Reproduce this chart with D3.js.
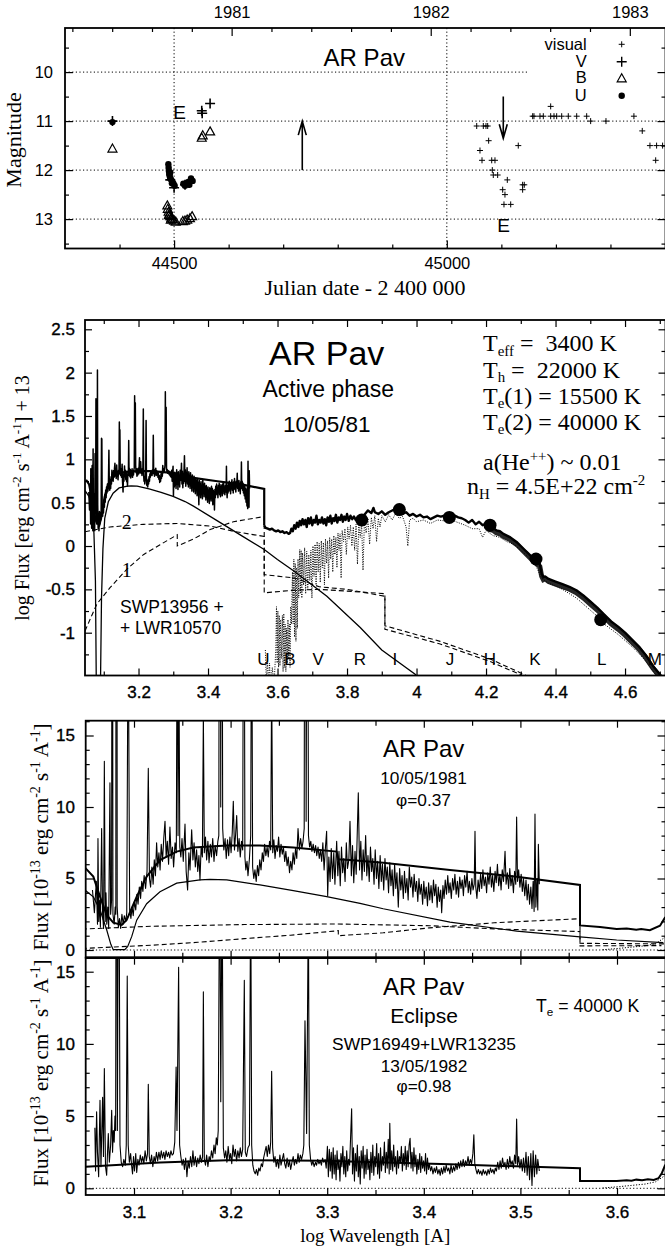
<!DOCTYPE html>
<html><head><meta charset="utf-8">
<script src="https://cdn.jsdelivr.net/npm/d3@7"></script>
<style>
html,body{margin:0;padding:0;background:#fff;}
svg{display:block;}
text{font-family:"Liberation Sans",Arial,Helvetica,sans-serif;fill:#000;}
.serif{font-family:"Liberation Serif","Times New Roman",Times,serif;}
.bt{stroke:#000;stroke-width:0.35;}
</style></head><body>
<svg id="c" width="665" height="1249"></svg>
<script>
// ---------------- DATA ----------------
// Top panel: light curve (JD-2400000, magnitude)
const visualPts = [[45054.8,11.1],[45066.9,11.1],[45071.8,11.1],[45074.9,11.1],[45076.7,11.4],[45060.8,11.6],[45064.5,11.8],[45082.3,11.8],[45088.3,11.8],[45083.4,12.0],[45085.2,12.1],[45093.2,12.1],[45110.9,12.2],[45102.4,12.4],[45106.6,12.5],[45104.8,12.7],[45117.1,12.7],[45131,11.5],[45139,12.3],[45142,12.3],[45139,12.4],[45157.4,10.9],[45159.8,10.9],[45170.8,10.9],[45176.9,10.9],[45190.4,10.9],[45196.5,10.9],[45201.4,10.9],[45210.6,10.9],[45222.7,10.9],[45238.1,10.9],[45256.4,10.9],[45190.4,10.7],[45263.7,11.0],[45291.8,11.0],[45343,10.9],[45358.3,11.2],[45372.4,11.5],[45384.6,11.5],[45395.6,11.5],[45382.9,11.8]];
const vPts = [[44387,11.0],[44493,12.2],[44500,12.36],[44520,12.3],[44527,12.26],[44550.7,10.79],[44551.5,10.84],[44566,10.64]];
const bPts = [[44387,11.57],[44487.6,12.73],[44488.5,12.8],[44490,12.86],[44491.5,12.9],[44493,12.95],[44495,12.98],[44497,13.01],[44500,13.04],[44503,13.06],[44490.5,12.93],[44494,13.02],[44516,13.05],[44520,13.04],[44524,13.02],[44529,12.99],[44533,12.95],[44550.7,11.35],[44552.5,11.3],[44566,11.22]];
const uPts = [[44387,11.02],[44489.5,11.88],[44490,11.95],[44490.5,12.02],[44491,12.08],[44492,12.12],[44493,12.17],[44495,12.2],[44497,12.24],[44499,12.28],[44501,12.32],[44493,12.05],[44496,12.27],[44517,12.28],[44520,12.32],[44522,12.27],[44526,12.24],[44528,12.3],[44531,12.17],[44534,12.22]];
const topYears = [1981,1982,1983];
const gridMags = [10,11,12,13];
const gridJD = [44500,45000];
const legendLabels = ["visual","V","B","U"];

// Middle panel (log flux + 13 vs log wavelength)
const hotLog = [[3.046,0.64],[3.0579,0.57],[3.0648,0.45],[3.0717,0.15],[3.076,-0.4],[3.0785,-1.6],[3.0905,-1.6],[3.0935,-0.6],[3.0976,-0.03],[3.1028,0.32],[3.1131,0.51],[3.1269,0.61],[3.1442,0.67],[3.1683,0.69],[3.1787,0.694],[3.196,0.69],[3.2304,0.658],[3.2649,0.618],[3.2995,0.572],[3.334,0.513],[3.358,0.46],[3.4271,0.29],[3.4962,0.12],[3.5617,-0.04],[3.5997,-0.155],[3.648,-0.29],[3.742,-0.58],[3.838,-0.94],[3.9,-1.2],[3.996,-1.48],[4.01,-1.55]];
const neb1Log = [[3.046,-0.98],[3.08,-0.67],[3.118,-0.48],[3.166,-0.27],[3.214,-0.1],[3.262,0.015],[3.3115,0.13],[3.3115,0.0],[3.358,0.08],[3.406,0.19],[3.473,0.28],[3.5617,0.34],[3.5617,-0.33],[3.65,-0.37],[3.72,-0.47],[3.80,-0.5],[3.909,-0.58],[3.909,-0.92],[4.068,-1.1],[4.21,-1.3],[4.33,-1.52]];
const neb2Log = [[3.046,0.165],[3.118,0.22],[3.214,0.25],[3.31,0.26],[3.406,0.23],[3.473,0.17],[3.5617,0.11],[3.5617,-0.54],[3.646,-0.51],[3.72,-0.5],[3.80,-0.52],[3.909,-0.55],[3.909,-0.96],[4.068,-1.13],[4.21,-1.33],[4.32,-1.52]];
const optTotalLog = [[3.5617,0.236],[3.566,0.21],[3.572,0.2],[3.578,0.19],[3.584,0.2],[3.59,0.18],[3.596,0.17],[3.602,0.18],[3.608,0.16],[3.614,0.17],[3.62,0.15],[3.626,0.16],[3.632,0.14],[3.636,0.15],[3.64,0.2],[3.644,0.17],[3.648,0.24],[3.652,0.2],[3.656,0.27],[3.66,0.22],[3.664,0.29],[3.668,0.24],[3.672,0.31],[3.676,0.25],[3.68,0.3],[3.684,0.22],[3.688,0.32],[3.692,0.26],[3.696,0.33],[3.70,0.24],[3.704,0.3],[3.708,0.27],[3.712,0.35],[3.716,0.25],[3.72,0.3],[3.724,0.27],[3.728,0.33],[3.732,0.26],[3.736,0.31],[3.74,0.24],[3.744,0.33],[3.748,0.28],[3.752,0.35],[3.756,0.26],[3.76,0.32],[3.764,0.29],[3.768,0.36],[3.772,0.27],[3.776,0.33],[3.78,0.3],[3.784,0.36],[3.788,0.28],[3.792,0.34],[3.796,0.3],[3.80,0.37],[3.805,0.29],[3.81,0.35],[3.815,0.31],[3.82,0.34],[3.825,0.3],[3.83,0.33],[3.835,0.31],[3.84,0.32],[3.85,0.36],[3.86,0.41],[3.87,0.38],[3.876,0.44],[3.88,0.39],[3.89,0.37],[3.90,0.4],[3.91,0.36],[3.92,0.39],[3.93,0.41],[3.94,0.43],[3.95,0.4],[3.96,0.37],[3.97,0.39],[3.98,0.35],[3.99,0.37],[4.0,0.34],[4.01,0.36],[4.02,0.33],[4.03,0.34],[4.04,0.31],[4.05,0.33],[4.06,0.35],[4.07,0.34],[4.08,0.35],[4.09,0.36],[4.10,0.34],[4.11,0.35],[4.12,0.33],[4.13,0.32],[4.14,0.30],[4.15,0.27],[4.16,0.3],[4.17,0.25],[4.18,0.28],[4.19,0.24],[4.2,0.26],[4.21,0.22],[4.22,0.21],[4.23,0.18],[4.24,0.17],[4.25,0.14],[4.26,0.12],[4.27,0.1],[4.28,0.07],[4.29,0.04],[4.30,0.0],[4.31,-0.04],[4.32,-0.08],[4.33,-0.12],[4.34,-0.16],[4.35,-0.19],[4.355,-0.21],[4.36,-0.32],[4.365,-0.36],[4.37,-0.35],[4.38,-0.38],[4.40,-0.41],[4.42,-0.44],[4.44,-0.47],[4.46,-0.51],[4.48,-0.57],[4.50,-0.64],[4.52,-0.71],[4.54,-0.79],[4.56,-0.87],[4.58,-0.93],[4.60,-1.0],[4.62,-1.08],[4.64,-1.16],[4.66,-1.26],[4.68,-1.38],[4.70,-1.48],[4.715,-1.56]];
const giantLog = [[3.565,-1.2],[3.568,-1.6],[3.571,-1.3],[3.574,-1.6],[3.577,-1.35],[3.58,-1.6],[3.585,-1.4],[3.59,-1.6],[3.595,-1.2],[3.597,-0.7],[3.599,-1.35],[3.601,-0.75],[3.603,-1.4],[3.605,-0.8],[3.607,-1.38],[3.609,-0.85],[3.611,-1.3],[3.614,-0.8],[3.616,-1.45],[3.618,-0.78],[3.62,-1.4],[3.622,-0.9],[3.624,-1.45],[3.626,-0.95],[3.628,-1.35],[3.63,-0.85],[3.632,-1.3],[3.634,-0.9],[3.636,-1.4],[3.638,-0.7],[3.64,-0.9],[3.643,-0.3],[3.645,-0.9],[3.647,-0.15],[3.649,-1.05],[3.651,-0.2],[3.653,-1.1],[3.655,-0.25],[3.657,-0.95],[3.659,-0.15],[3.661,-0.6],[3.664,-0.04],[3.666,-0.55],[3.668,-0.05],[3.67,-0.6],[3.672,-0.08],[3.675,-0.45],[3.678,-0.02],[3.681,-0.55],[3.684,-0.06],[3.687,-0.5],[3.69,-0.1],[3.693,-0.4],[3.696,-0.05],[3.699,-0.6],[3.702,0.0],[3.705,-0.35],[3.708,0.02],[3.711,-0.45],[3.714,0.05],[3.717,-0.3],[3.72,0.03],[3.723,-0.42],[3.726,0.06],[3.729,-0.25],[3.732,0.04],[3.735,-0.45],[3.738,0.08],[3.741,-0.2],[3.744,0.06],[3.747,-0.37],[3.75,0.1],[3.753,-0.15],[3.756,0.08],[3.759,-0.3],[3.762,0.12],[3.765,-0.1],[3.768,0.1],[3.771,-0.25],[3.774,0.15],[3.777,-0.05],[3.78,0.14],[3.783,-0.37],[3.786,0.18],[3.79,0.05],[3.794,0.2],[3.798,-0.1],[3.802,0.22],[3.806,0.08],[3.81,0.24],[3.814,0.0],[3.818,0.22],[3.822,-0.05],[3.826,0.25],[3.83,-0.21],[3.834,0.24],[3.838,0.1],[3.842,0.26],[3.846,-0.28],[3.85,0.28],[3.855,0.15],[3.86,0.32],[3.865,0.02],[3.87,0.33],[3.875,0.2],[3.88,0.35],[3.885,0.05],[3.89,0.32],[3.895,0.22],[3.90,0.35],[3.91,0.28],[3.92,0.36],[3.93,0.3],[3.94,0.38],[3.95,0.32],[3.96,0.34],[3.97,0.22],[3.975,0.0],[3.98,0.3],[3.99,0.32],[4.0,0.28],[4.02,0.3],[4.04,0.26],[4.06,0.3],[4.08,0.29],[4.10,0.3],[4.12,0.27],[4.14,0.24],[4.16,0.2],[4.18,0.2],[4.19,0.1],[4.2,0.18],[4.22,0.12],[4.24,0.1],[4.26,0.05],[4.28,0.02],[4.30,-0.05],[4.32,-0.12],[4.34,-0.2],[4.36,-0.37],[4.38,-0.43],[4.40,-0.46],[4.42,-0.5],[4.44,-0.55],[4.46,-0.6],[4.48,-0.67],[4.50,-0.74],[4.52,-0.81],[4.54,-0.9],[4.56,-0.96],[4.58,-1.02],[4.60,-1.09],[4.62,-1.16],[4.64,-1.24],[4.66,-1.33],[4.68,-1.44],[4.70,-1.55]];
const photLog = [[3.8423,0.30],[3.9505,0.42],[4.0944,0.33],[4.2115,0.24],[4.3438,-0.15],[4.530,-0.85]];
const bandNames = ["U","B","V","R","I","J","H","K","L","M"];
const bandPos = [3.559,3.636,3.717,3.837,3.938,4.096,4.211,4.341,4.533,4.686];

// Bottom panels (flux in 1e-13 erg cm-2 s-1 A-1)
const modelActive = [[3.049,5.78],[3.0579,5.13],[3.0648,3.73],[3.0717,2.45],[3.0786,1.91],[3.0873,1.75],[3.0924,2.1],[3.1028,3.73],[3.1131,5.13],[3.1269,6.29],[3.1442,6.88],[3.1614,7.16],[3.196,7.3],[3.2304,7.3],[3.2649,7.16],[3.3098,6.88],[3.3115,6.34],[3.3236,6.29],[3.358,6.1],[3.4271,5.59],[3.4962,5.13],[3.5617,4.55],[3.5617,1.72],[3.5824,1.6],[3.5997,1.47],[3.61,1.5],[3.62,1.42],[3.625,1.46],[3.634,1.38],[3.6445,1.7],[3.65,2.3]];
const modelEclipse = [[3.05,1.5],[3.1269,1.79],[3.196,1.95],[3.2995,1.9],[3.3236,1.86],[3.427,1.66],[3.5617,1.39],[3.5617,0.51],[3.5997,0.5],[3.61,0.56],[3.615,0.52],[3.62,0.6],[3.626,0.55],[3.632,0.62],[3.638,0.58],[3.643,0.7],[3.6465,1.06],[3.65,1.64]];
const giantLin = [[3.585,0.02],[3.60,0.1],[3.615,0.2],[3.63,0.3],[3.64,0.45],[3.65,0.9]];
const obsActive = [[3.057,4.2],[3.059,2.6],[3.061,4.8],[3.0622,1.8],[3.0627,7.8],[3.0635,2.0],[3.0645,3.5],[3.0652,1.6],[3.0665,8.5],[3.0675,2.5],[3.0685,1.5],[3.0693,13.2],[3.0702,2.0],[3.071,4.0],[3.0718,1.8],[3.0728,3.0],[3.0738,1.5],[3.0751,11.7],[3.0758,2.5],[3.0768,3.5],[3.0775,50],[3.0782,2.5],[3.0795,1.8],[3.0805,3.0],[3.0812,2.5],[3.0818,107],[3.0826,3.0],[3.0838,1.6],[3.085,2.2],[3.0862,1.5],[3.0875,2.5],[3.0888,1.8],[3.09,2.4],[3.0915,2.0],[3.0925,2.6],[3.0935,17.5],[3.0945,17],[3.0955,2.8],[3.0968,2.2],[3.098,3.0],[3.0992,2.4],[3.1005,3.4],[3.1018,2.8],[3.103,3.9],[3.1042,3.2],[3.1055,4.4],[3.1068,3.6],[3.108,4.8],[3.1092,4.1],[3.1105,5.2],[3.112,4.3],[3.1135,5.5],[3.1148,12.7],[3.116,5.0],[3.1172,4.4],[3.1185,5.8],[3.1198,4.6],[3.121,6.3],[3.1222,5.2],[3.1234,7.5],[3.1246,5.8],[3.1258,6.8],[3.127,5.6],[3.1282,7.4],[3.1295,6.2],[3.1308,7.8],[3.1321,9.0],[3.1333,6.5],[3.1345,7.6],[3.1358,6.0],[3.1372,8.6],[3.1385,6.4],[3.1398,7.2],[3.141,5.8],[3.1425,7.5],[3.1438,6.8],[3.1448,27],[3.1456,8],[3.1464,22],[3.1474,7.2],[3.1485,6.5],[3.1497,7.8],[3.151,6.2],[3.1528,8.8],[3.154,5.5],[3.1555,4.2],[3.1568,6.8],[3.158,5.6],[3.1597,8.4],[3.161,6.3],[3.1622,7.5],[3.1635,5.8],[3.1648,7.0],[3.166,5.5],[3.1672,6.6],[3.1683,4.9],[3.1695,7.2],[3.1708,6.5],[3.1718,16.5],[3.1728,6.8],[3.174,7.9],[3.1752,6.3],[3.1765,7.6],[3.1777,6.1],[3.179,7.4],[3.1802,6.5],[3.1815,7.8],[3.1828,6.2],[3.184,7.3],[3.1855,6.6],[3.1868,7.6],[3.1878,8],[3.1888,54],[3.1898,10],[3.1908,45],[3.1918,8.5],[3.193,7.0],[3.1943,7.8],[3.1955,6.4],[3.1968,7.7],[3.198,6.6],[3.1993,7.9],[3.2005,6.8],[3.2017,8.2],[3.2028,10.4],[3.204,7.0],[3.2052,8.1],[3.2063,9.4],[3.2075,6.9],[3.2088,7.8],[3.21,6.5],[3.2113,7.6],[3.2125,7.0],[3.2138,38],[3.2148,6.5],[3.2158,5.6],[3.217,6.2],[3.218,5.2],[3.2195,6.4],[3.2208,8],[3.2218,28],[3.2228,5.8],[3.224,5.0],[3.2252,5.6],[3.2265,4.8],[3.2278,5.9],[3.229,5.2],[3.2302,6.3],[3.2315,5.6],[3.2328,6.8],[3.234,6.2],[3.2352,7.4],[3.2365,6.6],[3.2378,7.2],[3.239,6.5],[3.2403,7.6],[3.2415,7.0],[3.2425,19],[3.2436,6.8],[3.2448,7.7],[3.246,6.4],[3.2472,7.3],[3.2485,6.9],[3.2497,7.9],[3.251,6.5],[3.2522,7.4],[3.2535,6.7],[3.2547,7.2],[3.256,6.2],[3.2572,6.9],[3.2585,5.9],[3.2597,6.5],[3.261,5.4],[3.2622,6.2],[3.2635,5.6],[3.2647,6.8],[3.266,6.0],[3.2672,7.1],[3.2685,6.4],[3.2698,8.5],[3.2712,7.0],[3.2725,7.8],[3.2738,7.1],[3.275,7.6],[3.2762,8.5],[3.2772,60],[3.2782,9],[3.2795,40],[3.2806,8],[3.2818,7.2],[3.283,7.6],[3.2842,6.9],[3.2855,7.4],[3.2868,6.8],[3.288,7.3],[3.2892,6.6],[3.2905,7.2],[3.2918,6.4],[3.293,7.0],[3.2943,6.2],[3.2955,7.5],[3.2968,5.6],[3.298,7.0],[3.2994,8.3],[3.3005,3.8],[3.3017,6.5],[3.303,4.8],[3.3042,7.1],[3.3055,5.0],[3.3068,6.8],[3.308,4.6],[3.3098,7.6],[3.311,5.2],[3.3122,6.9],[3.3135,4.5],[3.3148,7.2],[3.316,5.4],[3.3172,6.4],[3.3185,4.8],[3.3198,7.5],[3.321,5.7],[3.3224,6.3],[3.3236,9.0],[3.325,5.2],[3.3262,7.3],[3.3275,4.7],[3.3288,6.9],[3.33,5.3],[3.3322,11],[3.3335,5.6],[3.3348,7.6],[3.336,4.9],[3.3372,7.0],[3.3385,5.5],[3.3398,8.0],[3.341,5.2],[3.3422,6.6],[3.3435,4.8],[3.3448,7.2],[3.346,5.5],[3.3472,6.4],[3.3485,4.6],[3.3497,7.0],[3.351,5.0],[3.3522,6.2],[3.3535,4.3],[3.3548,6.6],[3.356,4.8],[3.3572,6.0],[3.3585,4.2],[3.3598,6.4],[3.361,4.9],[3.3622,5.8],[3.3635,4.0],[3.3648,6.1],[3.366,4.5],[3.3672,5.6],[3.3685,3.8],[3.3698,6.0],[3.371,4.3],[3.3722,5.4],[3.3736,3.0],[3.375,5.7],[3.3762,4.2],[3.3775,5.2],[3.3788,3.6],[3.38,5.5],[3.3812,4.0],[3.3825,5.0],[3.3838,3.5],[3.385,5.8],[3.3862,4.4],[3.3875,5.1],[3.3888,3.7],[3.39,5.3],[3.3912,4.1],[3.3925,4.8],[3.3938,3.4],[3.395,5.0],[3.3962,3.9],[3.3975,4.6],[3.3988,3.2],[3.40,4.8],[3.4012,3.6],[3.4025,4.4],[3.4038,3.1],[3.405,4.7],[3.4062,3.5],[3.4075,4.5],[3.4088,3.3],[3.41,4.9],[3.4112,3.8],[3.4125,4.6],[3.4138,3.0],[3.415,4.4],[3.4162,3.4],[3.4175,4.2],[3.4185,2.6],[3.4198,4.5],[3.421,3.6],[3.4222,4.9],[3.4235,3.9],[3.4248,5.2],[3.426,4.0],[3.4272,4.7],[3.4285,3.6],[3.4298,5.0],[3.431,4.2],[3.4322,5.3],[3.4335,3.9],[3.4348,4.8],[3.436,3.7],[3.4372,5.1],[3.4385,4.3],[3.4398,4.9],[3.441,3.8],[3.4422,5.2],[3.4435,4.4],[3.4448,5.5],[3.446,4.0],[3.4472,4.8],[3.4485,3.9],[3.4498,5.0],[3.451,4.2],[3.4522,4.6],[3.453,8.3],[3.4538,4.4],[3.455,3.6],[3.4562,4.9],[3.4575,4.1],[3.4588,5.3],[3.46,4.3],[3.4612,5.6],[3.4625,4.5],[3.4638,5.1],[3.465,4.0],[3.4662,5.4],[3.4675,4.6],[3.4688,5.8],[3.47,4.4],[3.4712,5.2],[3.4725,4.1],[3.4738,5.5],[3.475,4.7],[3.4762,6.0],[3.4775,4.5],[3.4788,5.3],[3.48,4.2],[3.4812,5.6],[3.4825,4.8],[3.4841,6.9],[3.4852,4.6],[3.4865,5.4],[3.4878,4.3],[3.489,5.7],[3.4902,4.5],[3.4915,5.2],[3.4928,4.0],[3.494,5.5],[3.4952,4.6],[3.4961,9.3],[3.497,4.8],[3.4982,5.6],[3.4995,4.4],[3.5008,5.3],[3.502,4.1],[3.5032,5.0],[3.5045,3.8],[3.5058,4.9],[3.507,3.5],[3.5082,4.6],[3.5095,3.2],[3.5108,4.4],[3.512,2.9],[3.5132,4.8],[3.5142,2.7],[3.5151,9.5],[3.516,3.0],[3.5172,5.0],[3.518,2.8],[3.5186,7.4],[3.5196,4.6]];
const obsEclipse = [[3.0595,4.2],[3.0602,1.2],[3.0613,5.3],[3.0622,2.5],[3.0634,0.8],[3.0648,6.1],[3.0658,1.5],[3.0675,6.3],[3.0684,2.2],[3.0693,8.3],[3.0705,1.5],[3.0717,0.9],[3.0726,2.5],[3.0734,3.8],[3.0745,1.8],[3.0758,3.0],[3.0769,5.4],[3.0778,2.5],[3.0786,4.0],[3.0795,3.2],[3.0803,5.0],[3.081,4.0],[3.0818,40],[3.0828,4],[3.0842,30],[3.0855,3.0],[3.0868,1.8],[3.0882,1.5],[3.0895,2.0],[3.091,1.6],[3.092,3.0],[3.093,14.7],[3.094,3.0],[3.0952,1.8],[3.0965,2.4],[3.0975,1.6],[3.0985,1.0],[3.0995,2.2],[3.1005,1.2],[3.1018,2.4],[3.1028,1.1],[3.104,2.0],[3.1052,1.6],[3.1065,2.3],[3.1078,1.8],[3.109,2.2],[3.1102,1.7],[3.1115,2.6],[3.1128,1.9],[3.114,2.4],[3.1148,7.2],[3.1158,2.2],[3.117,1.7],[3.1182,2.3],[3.1195,1.5],[3.1208,2.2],[3.122,1.8],[3.1232,2.5],[3.1245,1.9],[3.1258,2.5],[3.127,2.0],[3.1282,2.6],[3.1295,2.1],[3.1308,2.5],[3.132,2.0],[3.1332,2.6],[3.1345,2.2],[3.1358,2.5],[3.137,2.1],[3.1382,2.6],[3.1395,2.3],[3.1408,2.4],[3.1422,3.2],[3.1436,8.4],[3.1445,4],[3.1462,15.3],[3.1472,3.0],[3.1485,2.2],[3.1498,1.6],[3.151,2.0],[3.1522,1.3],[3.1535,2.1],[3.1548,0.8],[3.156,1.9],[3.1572,1.4],[3.1585,2.2],[3.1598,1.5],[3.161,2.6],[3.1622,1.6],[3.1635,2.2],[3.1648,1.5],[3.166,2.1],[3.1672,1.7],[3.1685,2.3],[3.1698,1.8],[3.171,2.2],[3.1718,13.6],[3.1728,2.0],[3.174,1.6],[3.1752,2.3],[3.1765,1.5],[3.1778,2.2],[3.179,1.9],[3.1802,2.6],[3.1815,2.1],[3.1828,3.0],[3.184,2.4],[3.1852,3.5],[3.1862,3.0],[3.1872,4.0],[3.1888,25],[3.1898,6],[3.1912,22],[3.1925,2.8],[3.1938,2.1],[3.195,2.6],[3.1962,1.8],[3.1975,2.9],[3.1988,2.0],[3.20,2.4],[3.2012,1.7],[3.2025,3.0],[3.2038,2.2],[3.205,2.7],[3.2062,1.9],[3.2075,2.6],[3.2088,2.1],[3.21,2.8],[3.2112,2.2],[3.2125,2.7],[3.2142,14.4],[3.2152,2.5],[3.2165,2.2],[3.218,2.8],[3.2195,3],[3.2208,22],[3.2218,3],[3.223,1.6],[3.2242,1.2],[3.2255,1.0],[3.2268,1.3],[3.228,0.9],[3.2292,1.4],[3.2305,1.2],[3.2318,1.7],[3.233,1.5],[3.2342,2.1],[3.2355,2.5],[3.2368,2.9],[3.238,2.2],[3.2392,3.0],[3.2405,2.4],[3.2415,3.2],[3.2425,8.1],[3.2435,2.8],[3.2448,1.8],[3.246,2.2],[3.2472,1.5],[3.2485,2.0],[3.2498,1.4],[3.251,2.3],[3.2522,1.6],[3.2535,2.0],[3.2548,2.4],[3.256,1.7],[3.2572,1.4],[3.2585,2.1],[3.2598,1.5],[3.261,1.9],[3.2622,1.3],[3.2635,1.8],[3.2648,2.2],[3.266,1.6],[3.2672,2.0],[3.2685,1.7],[3.2698,2.4],[3.271,1.8],[3.2722,2.3],[3.2735,2.0],[3.2748,2.4],[3.2758,3],[3.277,11.6],[3.2787,3.8],[3.2805,20],[3.2815,3],[3.2828,2.0],[3.284,1.6],[3.2852,1.9],[3.2865,1.5],[3.2878,1.8],[3.289,1.6],[3.2902,2.0],[3.2915,1.7],[3.2928,1.9],[3.294,1.6],[3.2952,2.1],[3.2965,1.8],[3.2978,2.0],[3.299,1.4],[3.3002,2.9],[3.3012,0.8],[3.3022,2.7],[3.3032,1.2],[3.3042,2.5],[3.3052,0.7],[3.3062,2.8],[3.3072,1.0],[3.3082,2.3],[3.3092,0.6],[3.3102,2.6],[3.3112,1.3],[3.3122,2.0],[3.3132,0.5],[3.3142,2.4],[3.3152,1.5],[3.3162,2.9],[3.3172,1.0],[3.3182,2.2],[3.3192,0.8],[3.3202,2.6],[3.3212,1.2],[3.3222,2.0],[3.3232,1.6],[3.3242,3.5],[3.3253,5.5],[3.3262,1.0],[3.3272,2.8],[3.3282,0.5],[3.3292,2.4],[3.3302,1.2],[3.3312,3.0],[3.3322,0.8],[3.3332,2.2],[3.3342,0.3],[3.3352,2.6],[3.3362,1.4],[3.3372,2.9],[3.3382,0.7],[3.3392,2.3],[3.3402,1.0],[3.3412,2.7],[3.3422,1.3],[3.3432,2.0],[3.3442,0.6],[3.3452,2.5],[3.3462,1.1],[3.3472,3.0],[3.3482,0.9],[3.3492,2.2],[3.3502,1.5],[3.3512,3.1],[3.3522,1.0],[3.3532,2.4],[3.3542,0.7],[3.3552,2.8],[3.3562,1.2],[3.3572,2.2],[3.3582,1.6],[3.3592,3.2],[3.3602,1.1],[3.3612,2.5],[3.3622,1.4],[3.3632,3.4],[3.3642,1.0],[3.3648,4.5],[3.3658,1.3],[3.3668,2.6],[3.3678,1.2],[3.3688,3.0],[3.3698,1.5],[3.3708,2.2],[3.3718,1.0],[3.3728,2.6],[3.3738,1.4],[3.3748,2.2],[3.3758,1.8],[3.3768,2.9],[3.3778,1.2],[3.3788,2.4],[3.3798,1.6],[3.3808,2.9],[3.3818,1.3],[3.3828,2.6],[3.3838,1.5],[3.3848,3.0],[3.3858,3.46],[3.3868,1.4],[3.3878,2.5],[3.3888,1.2],[3.3898,2.8],[3.3908,1.5],[3.3918,2.3],[3.3928,1.0],[3.3938,2.0],[3.3948,1.3],[3.3958,2.4],[3.3968,1.1],[3.3978,2.2],[3.3988,1.4],[3.3998,1.9],[3.4008,1.2],[3.4018,2.4],[3.4028,1.0],[3.4038,2.1],[3.4048,1.3],[3.4058,1.7],[3.407,1.2],[3.4082,1.5],[3.4095,1.0],[3.4108,1.4],[3.412,1.1],[3.4132,1.5],[3.4145,1.0],[3.4158,1.3],[3.417,0.9],[3.4182,1.4],[3.4195,1.0],[3.4208,1.5],[3.422,1.1],[3.4232,1.6],[3.4245,1.2],[3.4258,1.4],[3.427,1.0],[3.4282,1.6],[3.4295,1.1],[3.4308,1.5],[3.432,1.2],[3.4332,1.7],[3.4345,1.3],[3.4358,1.8],[3.437,1.4],[3.4382,1.9],[3.4395,1.5],[3.4408,2.0],[3.442,1.5],[3.4432,1.9],[3.4445,1.6],[3.4458,2.2],[3.447,1.6],[3.4482,2.0],[3.4495,1.7],[3.4508,2.4],[3.4518,3.7],[3.4528,1.7],[3.454,1.3],[3.4552,1.0],[3.4565,1.3],[3.4578,1.0],[3.459,1.2],[3.4602,0.9],[3.4615,1.3],[3.4628,1.0],[3.464,1.2],[3.4652,0.9],[3.4665,1.3],[3.4678,1.0],[3.469,1.4],[3.4702,1.1],[3.4715,1.3],[3.4728,1.0],[3.474,1.4],[3.4752,1.2],[3.4765,1.8],[3.4778,1.3],[3.479,1.9],[3.4802,1.4],[3.4815,2.1],[3.4828,1.5],[3.484,1.8],[3.4852,1.3],[3.4865,2.0],[3.4878,1.4],[3.489,2.2],[3.4902,1.6],[3.4915,1.9],[3.4928,1.4],[3.494,2.3],[3.4952,1.7],[3.4961,4.8],[3.497,1.6],[3.4982,2.2],[3.4995,1.4],[3.5008,2.0],[3.502,1.2],[3.5032,2.1],[3.5045,1.1],[3.5058,2.5],[3.507,0.9],[3.5082,2.2],[3.5095,0.6],[3.5108,2.4],[3.512,0.2],[3.5132,2.6],[3.5145,0.8],[3.5158,2.3],[3.517,1.0],[3.518,2.0],[3.5196,1.2]];

// ---------------- DRAWING ----------------
const svg = d3.select('#c');
const RX = 665.5;

// scales
const xT = d3.scaleLinear().domain([44300,45400]).range([65,665]);
const yT = d3.scaleLinear().domain([9.1,13.6]).range([28,248.5]);
const yrT = d3.scaleLinear().domain([1981,1983]).range([xT(44605.5), xT(45335.5)]);
const xM = d3.scaleLinear().domain([3.046,4.715]).range([85,665]);
const yM = d3.scaleLinear().domain([2.5,-1]).range([329.3,632.7]);
const xB = d3.scaleLinear().domain([3.05,3.65]).range([85.7,665.3]);
const y3 = d3.scaleLinear().domain([15,0]).range([735.5,950]);
const y4 = d3.scaleLinear().domain([15,0]).range([971.7,1188.3]);

const frames = {
  top:{l:65,t:28,r:RX,b:248.5},
  mid:{l:85,t:320,r:RX,b:675.5},
  p3:{l:85.7,t:720.7,r:RX,b:957.7},
  p4:{l:85.7,t:957.7,r:RX,b:1195}
};
const defs = svg.append('defs');
Object.entries(frames).forEach(([k,f])=>{
  defs.append('clipPath').attr('id','clip-'+k).append('rect')
    .attr('x',f.l).attr('y',f.t).attr('width',f.r-f.l).attr('height',f.b-f.t);
});

function axis(orient, scale, values, size, fmt, pad, fs, cls, pos){
  const gen = {left:d3.axisLeft,right:d3.axisRight,top:d3.axisTop,bottom:d3.axisBottom}[orient](scale)
    .tickValues(values).tickSizeInner(-size).tickSizeOuter(0).tickPadding(pad||3)
    .tickFormat(fmt || (()=>''));
  const g = svg.append('g');
  if(orient==='left'||orient==='right') g.attr('transform',`translate(${pos},0)`);
  else g.attr('transform',`translate(0,${pos})`);
  g.call(gen);
  g.select('.domain').remove();
  g.attr('font-family',null).attr('font-size',null);
  g.selectAll('line').attr('stroke','#000').attr('stroke-width',1.2);
  g.selectAll('text').attr('font-size',fs||16).attr('fill','#000');
  if(cls) g.selectAll('text').attr('class',cls);
  if(!fmt) g.selectAll('text').remove();
  return g;
}
function rich(x,y,parts,size,opts){
  opts = opts||{};
  const t = svg.append('text').attr('x',x).attr('y',y).attr('font-size',size)
    .attr('text-anchor',opts.anchor||'start');
  if(opts.cls) t.attr('class',opts.cls);
  if(opts.rotate) t.attr('transform',`rotate(-90,${x},${y})`);
  const subK = opts.sub!=null ? opts.sub : 0.26;
  const supK = opts.sup!=null ? opts.sup : 0.4;
  const small = opts.small || 0.66;
  let cur = 0;
  parts.forEach(p=>{
    const s = p[0], k = p[1];
    const target = k==='sub'? size*subK : k==='sup'? -size*supK : 0;
    const ts = t.append('tspan').text(s);
    if(target-cur!==0) ts.attr('dy',target-cur);
    if(k) ts.attr('font-size',size*small);
    cur = target;
  });
  return t;
}
function label(x,y,s,size,opts){ return rich(x,y,[[s]],size,opts); }

// ========== TOP PANEL ==========
{
  const f = frames.top;
  const gg = svg.append('g').attr('stroke','#000').attr('stroke-width',1).attr('stroke-dasharray','1.2,2.4');
  gridMags.forEach(m=>{
    gg.append('line').attr('x1',f.l).attr('x2', m===10 ? 527 : 665).attr('y1',yT(m)).attr('y2',yT(m));
  });
  gridJD.forEach(j=>{
    gg.append('line').attr('x1',xT(j)).attr('x2',xT(j)).attr('y1',f.t).attr('y2',f.b);
  });
  const magTicks = d3.range(19,28).map(i=>i/2);
  const magMajor = magTicks.filter(d=>Number.isInteger(d));
  const magMinor = magTicks.filter(d=>!Number.isInteger(d));
  axis('left',yT,magMajor,8,d=>String(d),12,16.5,null,f.l);
  axis('left',yT,magMinor,4,null,3,16.5,null,f.l);
  axis('right',yT,magMajor,8,null,3,16.5,null,f.r);
  axis('right',yT,magMinor,4,null,3,16.5,null,f.r);
  const jdTicks = d3.range(44400,45400,100);
  axis('bottom',xT,jdTicks.filter(d=>d%500===0),8,d=>String(d),9,16.5,null,f.b);
  axis('bottom',xT,jdTicks.filter(d=>d%500!==0),4,null,3,16.5,null,f.b);
  const yrTicks = d3.range(1,17).map(i=>1980+i*0.2).filter(v=>yrT(v)>66 && yrT(v)<664);
  axis('top',yrT,topYears,8,d=>String(d),10.5,16.5,null,f.t);
  axis('top',yrT,yrTicks.filter(v=>Math.abs(v-Math.round(v))>0.01),4,null,3,16.5,null,f.t);
  svg.append('rect').attr('x',f.l).attr('y',f.t).attr('width',f.r-f.l).attr('height',f.b-f.t)
    .attr('fill','none').attr('stroke','#000').attr('stroke-width',1.8);
  const gp = svg.append('g').attr('clip-path','url(#clip-top)');
  const plus = (g,x,y,a,w)=>{ g.append('path').attr('d',`M${x-a},${y}H${x+a}M${x},${y-a}V${y+a}`).attr('stroke','#000').attr('stroke-width',w).attr('fill','none'); };
  const tri = (g,x,y)=>{ g.append('path').attr('d',`M${x},${y-5}L${x+4.5},${y+3}L${x-4.5},${y+3}Z`).attr('stroke','#000').attr('stroke-width',1.2).attr('fill','none'); };
  const dot = (g,x,y)=>{ g.append('circle').attr('cx',x).attr('cy',y).attr('r',3.2).attr('fill','#000'); };
  visualPts.forEach(d=>plus(gp,xT(d[0]),yT(d[1]),3,1));
  bPts.forEach(d=>tri(gp,xT(d[0]),yT(d[1])));
  uPts.forEach(d=>dot(gp,xT(d[0]),yT(d[1])));
  vPts.forEach(d=>plus(gp,xT(d[0]),yT(d[1]),5,1.6));
  const ly = [50,66.7,83.3,101];
  legendLabels.forEach((s,i)=>label(586.7,ly[i],s,16.5,{anchor:'end'}));
  plus(svg,621.7,44.3,3,1); plus(svg,621.7,61.7,5,1.4); tri(svg,621.7,78.8); dot(svg,621.7,95.7);
  label(364.3,66,'AR Pav',24,{anchor:'middle'});
  label(173.3,119,'E',19);
  label(497.3,231.7,'E',19);
  const ax1 = xT(44735), ax2 = xT(45103.5);
  const ar = svg.append('g').attr('stroke','#000').attr('stroke-width',1.6).attr('fill','none');
  ar.append('path').attr('d',`M${ax1},${yT(12)}V${yT(11)}M${ax1-4},${yT(11)+14}L${ax1},${yT(11)}L${ax1+4},${yT(11)+14}`);
  ar.append('path').attr('d',`M${ax2},${yT(10.5)}V${yT(11.35)}M${ax2-4},${yT(11.35)-14}L${ax2},${yT(11.35)}L${ax2+4},${yT(11.35)-14}`);
  label(21,140,'Magnitude',22,{anchor:'middle',cls:'serif',rotate:true});
  label(365,295,'Julian date - 2 400 000',22,{anchor:'middle',cls:'serif'});
}

// ========== MIDDLE PANEL ==========
{
  const f = frames.mid;
  const xt = d3.range(31,48).map(i=>i/10);
  const xMaj = xt.filter(d=>Math.round(d*10)%2===0 && d>=3.2 && d<=4.6);
  const xMin = xt.filter(d=>!xMaj.includes(d));
  const fmtX = d=> (Math.abs(d-4)<1e-9?'4':d.toFixed(1));
  axis('bottom',xM,xMaj,7,fmtX,10.5,17,'bt',f.b);
  axis('bottom',xM,xMin,4,null,3,17,null,f.b);
  axis('top',xM,xMaj,7,null,3,17,null,f.t);
  axis('top',xM,xMin,4,null,3,17,null,f.t);
  const yt = d3.range(-5,11).map(i=>i/4);
  const yMaj = yt.filter(d=>Math.abs(d*2-Math.round(d*2))<1e-9);
  const yMin = yt.filter(d=>!yMaj.includes(d));
  axis('left',yM,yMaj,7,d=>String(d),10,17,'bt',f.l);
  axis('left',yM,yMin,4,null,3,17,null,f.l);
  axis('right',yM,yMaj,7,null,3,17,null,f.r);
  axis('right',yM,yMin,4,null,3,17,null,f.r);
  svg.append('rect').attr('x',f.l).attr('y',f.t).attr('width',f.r-f.l).attr('height',f.b-f.t)
    .attr('fill','none').attr('stroke','#000').attr('stroke-width',1.8);

  const g = svg.append('g').attr('clip-path','url(#clip-mid)');
  const lin = d3.line().x(d=>xM(d[0])).y(d=>yM(d[1]));
  const lg = d3.line().x(d=>xM(d[0])).y(d=>yM(Math.log10(Math.max(d[1],0.005))));
  g.append('path').attr('d',lin(giantLog)).attr('fill','none').attr('stroke','#000').attr('stroke-width',1).attr('stroke-dasharray','1,1.4');
  g.append('path').attr('d',lin(neb2Log)).attr('fill','none').attr('stroke','#000').attr('stroke-width',1.1).attr('stroke-dasharray','5,3');
  g.append('path').attr('d',lin(neb1Log)).attr('fill','none').attr('stroke','#000').attr('stroke-width',1.1).attr('stroke-dasharray','5,3');
  g.append('path').attr('d',lin(hotLog)).attr('fill','none').attr('stroke','#000').attr('stroke-width',1.3);
  g.append('path').attr('d',lg(obsActive)).attr('fill','none').attr('stroke','#000').attr('stroke-width',1.5).attr('stroke-linejoin','round');
  g.append('path').attr('d',lg(modelActive.filter(d=>d[0]<=3.5617))).attr('fill','none').attr('stroke','#000').attr('stroke-width',2.2);
  g.append('path').attr('d',lin(optTotalLog)).attr('fill','none').attr('stroke','#000').attr('stroke-width',2.4).attr('stroke-linejoin','round');
  g.append('path').attr('d',lin(optTotalLog.filter(d=>d[0]>=4.2))).attr('fill','none').attr('stroke','#000').attr('stroke-width',5).attr('stroke-opacity',0.85).attr('transform','translate(0,2.5)');
  g.selectAll('circle.ph').data(photLog).enter().append('circle').attr('class','ph')
    .attr('cx',d=>xM(d[0])).attr('cy',d=>yM(d[1])).attr('r',6.5).attr('fill','#000');

  bandNames.forEach((b,i)=>label(xM(bandPos[i]),664.5,b,17,{anchor:'middle'}));
  label(326.7,365,'AR Pav',34,{anchor:'middle'});
  label(328.3,397.3,'Active phase',23,{anchor:'middle'});
  label(326.7,431.7,'10/05/81',22.5,{anchor:'middle'});
  const S = {cls:'serif',sub:0.2,small:0.62};
  rich(483,351,[['T'],['eff','sub'],['\u00a0=\u00a0\u00a03400 K']],24,S);
  rich(483,377.5,[['T'],['h','sub'],['\u00a0=\u00a0\u00a022000 K']],24,S);
  rich(483,403.5,[['T'],['e','sub'],['(1) = 15500 K']],24,S);
  rich(483,429.5,[['T'],['e','sub'],['(2) = 40000 K']],24,S);
  rich(483,470,[['a(He'],['++','sup'],[') ~ 0.01']],24,{cls:'serif',sup:0.36,small:0.62});
  rich(467,494,[['n'],['H','sub'],[' = 4.5E+22 cm'],['-2','sup']],24,{cls:'serif',sub:0.2,sup:0.36,small:0.62});
  label(120,613.3,'SWP13956 +',17.5);
  label(120,634,'+ LWR10570',17.5);
  label(126.7,528.5,'2',20,{anchor:'middle',cls:'serif'});
  label(126.7,577,'1',20,{anchor:'middle',cls:'serif'});
  rich(29,498,[['log Flux [erg cm'],['-2','sup'],[' s'],['-1','sup'],[' A'],['-1','sup'],['] + 13']],20,{cls:'serif',anchor:'middle',rotate:true});
}

// ========== BOTTOM PANELS ==========
function bottomPanel(key, yS, model, obs, isEclipse){
  const f = frames[key];
  const xt = d3.range(62,73).map(i=>i/20);
  const xMaj = xt.filter(d=>Math.round(d*20)%2===0);
  const xMin = xt.filter(d=>!xMaj.includes(d));
  axis('top',xB,xMaj,7,null,3,17,null,f.t);
  axis('top',xB,xMin,5,null,3,17,null,f.t);
  axis('bottom',xB,xMaj,7,key==='p4'?(d=>d.toFixed(1)):null,10.7,17,'bt',f.b);
  axis('bottom',xB,xMin,5,null,3,17,null,f.b);
  const yt = d3.range(0,17);
  const yMaj = yt.filter(d=>d%5===0), yMin = yt.filter(d=>d%5!==0);
  axis('left',yS,yMaj,8,d=>String(d),10.7,17,'bt',f.l);
  axis('left',yS,yMin,4,null,3,17,null,f.l);
  axis('right',yS,yMaj,8,null,3,17,null,f.r);
  axis('right',yS,yMin,4,null,3,17,null,f.r);
  const g = svg.append('g').attr('clip-path',`url(#clip-${key})`);
  g.append('line').attr('x1',f.l).attr('x2',f.r).attr('y1',yS(0)).attr('y2',yS(0))
    .attr('stroke','#000').attr('stroke-width',1).attr('stroke-dasharray','1.2,2.2');
  const ln = d3.line().x(d=>xB(d[0])).y(d=>yS(d[1]));
  g.append('path').attr('d',ln(giantLin)).attr('fill','none').attr('stroke','#000').attr('stroke-width',1).attr('stroke-dasharray','1.2,1.6');
  if(!isEclipse){
    const toLin = arr => arr.filter(d=>d[0]<=3.66).map(d=>[d[0],Math.pow(10,d[1])]);
    g.append('path').attr('d',ln(toLin(neb2Log))).attr('fill','none').attr('stroke','#000').attr('stroke-width',1.1).attr('stroke-dasharray','5,3');
    g.append('path').attr('d',ln(toLin(neb1Log))).attr('fill','none').attr('stroke','#000').attr('stroke-width',1.1).attr('stroke-dasharray','5,3');
    g.append('path').attr('d',ln(toLin(hotLog))).attr('fill','none').attr('stroke','#000').attr('stroke-width',1.2);
  }
  g.append('path').attr('d',ln(obs)).attr('fill','none').attr('stroke','#000').attr('stroke-width',1.1).attr('stroke-linejoin','round');
  g.append('path').attr('d',ln(model)).attr('fill','none').attr('stroke','#000').attr('stroke-width',2);
  svg.append('rect').attr('x',f.l).attr('y',f.t).attr('width',f.r-f.l).attr('height',f.b-f.t)
    .attr('fill','none').attr('stroke','#000').attr('stroke-width',1.8);
}
bottomPanel('p3', y3, modelActive, obsActive, false);
bottomPanel('p4', y4, modelEclipse, obsEclipse, true);
svg.append('line').attr('x1',85.7).attr('x2',RX).attr('y1',957.7).attr('y2',957.7).attr('stroke','#000').attr('stroke-width',2.6);

label(423.7,756.7,'AR Pav',24,{anchor:'middle'});
label(423.5,784,'10/05/1981',17.3,{anchor:'middle'});
label(423.5,806,'\u03c6=0.37',17.3,{anchor:'middle'});
label(423.7,995,'AR Pav',24,{anchor:'middle'});
label(424,1023.3,'Eclipse',21,{anchor:'middle'});
label(424,1050,'SWP16949+LWR13235',17.4,{anchor:'middle'});
label(424,1072.3,'13/05/1982',17.3,{anchor:'middle'});
label(424,1091.7,'\u03c6=0.98',17.3,{anchor:'middle'});
rich(536,1011.7,[['T'],['e','sub'],[' = 40000 K']],17.7);
rich(48,837,[['Flux [10'],['-13','sup'],[' erg cm'],['-2','sup'],[' s'],['-1','sup'],[' A'],['-1','sup'],[']']],21,{cls:'serif',anchor:'middle',rotate:true});
rich(48,1073,[['Flux [10'],['-13','sup'],[' erg cm'],['-2','sup'],[' s'],['-1','sup'],[' A'],['-1','sup'],[']']],21,{cls:'serif',anchor:'middle',rotate:true});
label(375.3,1242,'log Wavelength [A]',19,{anchor:'middle',cls:'serif'});
</script></body></html>
